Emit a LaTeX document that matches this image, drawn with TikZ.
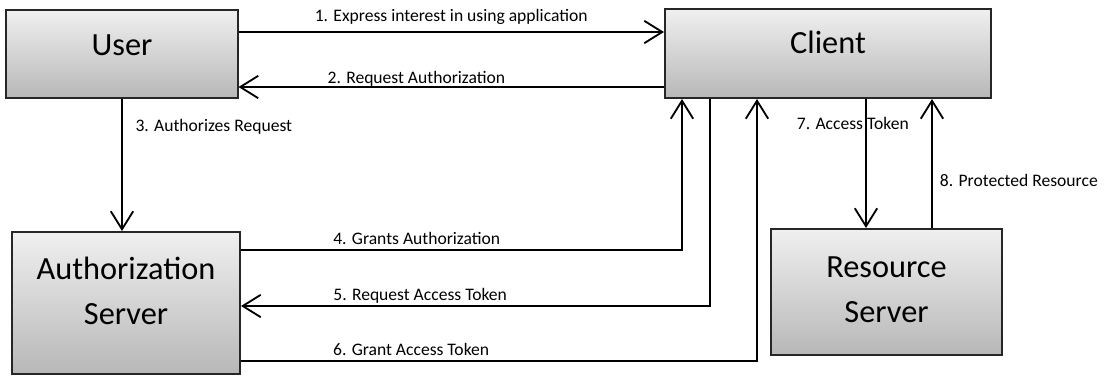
\documentclass[tikz,border=0pt]{standalone}
\usepackage{fontspec}
\setmainfont{Carlito}
\usetikzlibrary{arrows.meta}
\tikzset{
  box/.style={draw=black!85, line width=1.4pt, top color=black!6, bottom color=black!28, align=center, inner sep=0pt, font=\fontsize{23}{32}\selectfont},
  arrow/.style={-{Straight Barb[length=0.45cm, width=0.56cm]}, line width=1.3pt},
  lbl/.style={font=\fontsize{12.5}{15}\selectfont, inner sep=1pt, text height=0.7em, text depth=0.25em}
}
\begin{document}
\begin{tikzpicture}[x=0.025cm, y=-0.025cm]
  \useasboundingbox (0,0) rectangle (1112,376);
  \node[box, minimum width=5.775cm, minimum height=2.2cm, text depth=13pt] (user) at (122,54) {User};
  \node[box, minimum width=8.15cm, minimum height=2.225cm, text depth=16pt] (client) at (828,53.5) {Client};
  \node[box, minimum width=5.7cm, minimum height=3.55cm, text depth=18pt] (auth) at (126,303) {Authorization\\Server};
  \node[box, minimum width=5.775cm, minimum height=3.15cm, text depth=4pt] (res) at (886.5,292) {Resource\\Server};

  \draw[arrow] (user.east |- 0,32) -- node[lbl, above, yshift=3.2pt] {1. Express interest in using application} (client.west |- 0,32);
  \draw[arrow] (client.west |- 0,87) -- node[lbl, pos=0.796, above right, yshift=-1.8pt] {2. Request Authorization} (user.east |- 0,87);
  \draw[arrow] (user.south) -- node[lbl, pos=0.22, right, xshift=8pt] {3. Authorizes Request} (user.south |- auth.north);

  \draw[arrow] (auth.east |- 0,250) -| node[lbl, pos=0.102, above right] {4. Grants Authorization} (682,0 |- client.south);
  \draw[arrow] (710,0 |- client.south) |- node[lbl, pos=0.904, above right] {5. Request Access Token} (auth.east |- 0,306);
  \draw[arrow] (auth.east |- 0,361) -| node[lbl, pos=0.087, above right] {6. Grant Access Token} (757,0 |- client.south);

  \draw[arrow] (866,0 |- client.south) -- node[lbl, pos=0.214, xshift=-0.33cm] {7. Access Token} (866,0 |- res.north);
  \draw[arrow] (932,0 |- res.north) -- node[lbl, pos=0.35, right, xshift=4pt] {8. Protected Resource} (932,0 |- client.south);
\end{tikzpicture}
\end{document}
